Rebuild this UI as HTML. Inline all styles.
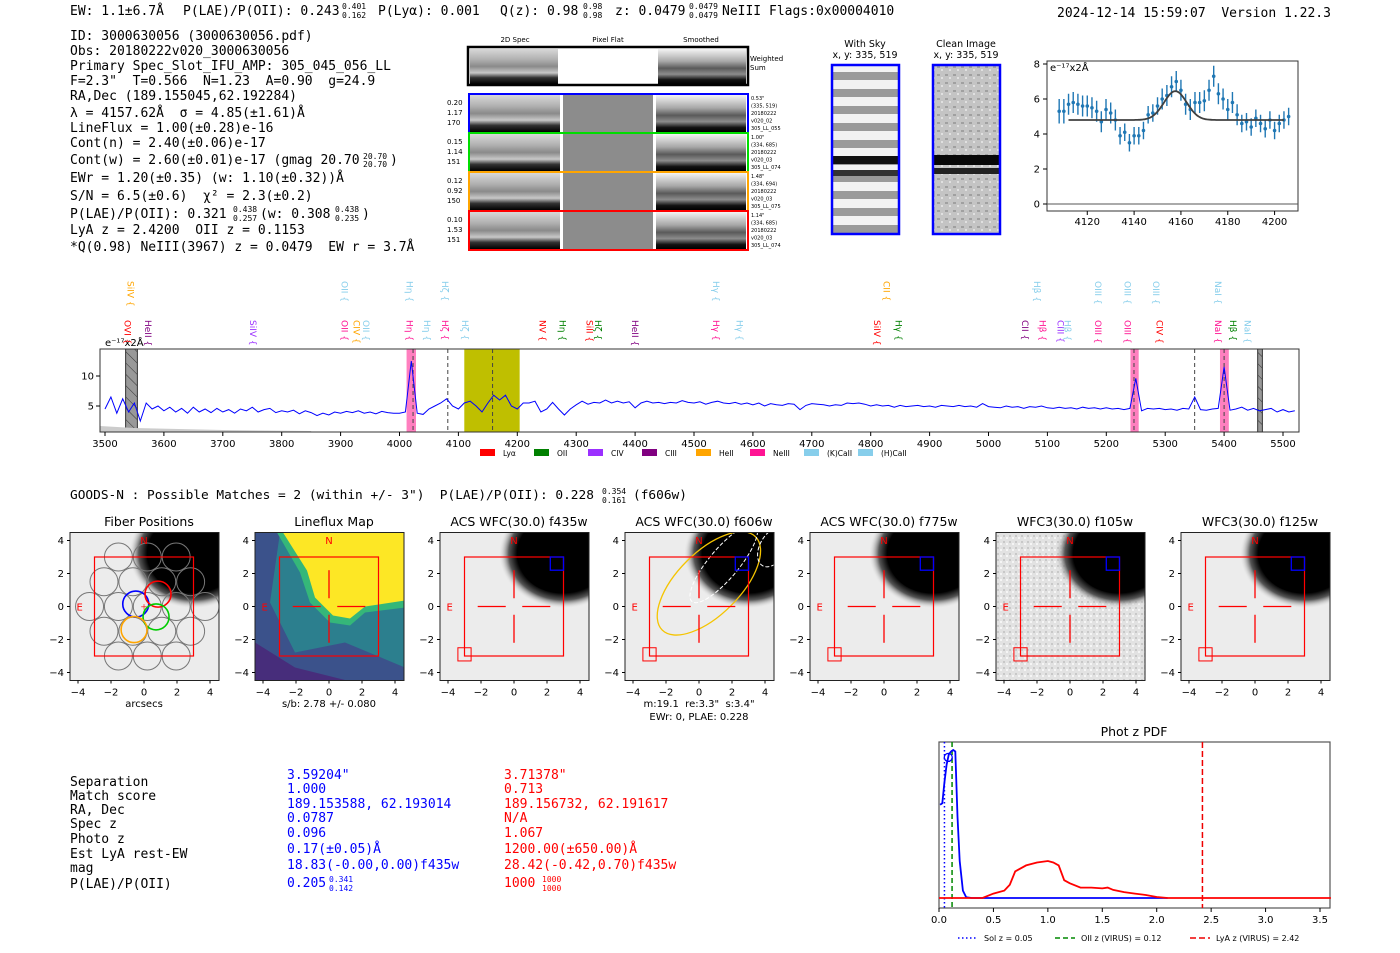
<!DOCTYPE html>
<html><head><meta charset="utf-8">
<style>
html,body{margin:0;padding:0;background:#fff;}
svg{display:block;}
text{white-space:pre;}
.mono{font-family:"DejaVu Sans Mono","Liberation Mono",monospace;font-size:13px;fill:#000;}
.sans{font-family:"DejaVu Sans","Liberation Sans",sans-serif;}
.tick{font-family:"DejaVu Sans","Liberation Sans",sans-serif;font-size:10px;fill:#000;}
</style></head>
<body>
<svg id="root" width="1400" height="953" viewBox="0 0 1400 953" xmlns="http://www.w3.org/2000/svg" xml:space="preserve">
<defs>
 <linearGradient id="g2d" x1="0" y1="0" x2="0" y2="1">
  <stop offset="0" stop-color="#d8d8d8"/><stop offset="0.3" stop-color="#b0b0b0"/><stop offset="0.5" stop-color="#8a8a8a"/><stop offset="0.68" stop-color="#c8c8c8"/><stop offset="0.82" stop-color="#333"/><stop offset="1" stop-color="#000"/>
 </linearGradient>
 <linearGradient id="gsm" x1="0" y1="0" x2="0" y2="1">
  <stop offset="0" stop-color="#f4f4f4"/><stop offset="0.35" stop-color="#a8a8a8"/><stop offset="0.55" stop-color="#5a5a5a"/><stop offset="0.72" stop-color="#8c8c8c"/><stop offset="0.88" stop-color="#111"/><stop offset="1" stop-color="#000"/>
 </linearGradient>
 <pattern id="stripes" width="10" height="17" patternUnits="userSpaceOnUse">
  <rect width="10" height="17" fill="#f2f2f2"/><rect y="4" width="10" height="8" fill="#9a9a9a"/>
 </pattern>
 <pattern id="cleanpat" width="8" height="8" patternUnits="userSpaceOnUse">
  <rect width="8" height="8" fill="#c4c4c4"/><rect x="1" y="2" width="3" height="2" fill="#a0a0a0"/><rect x="5" y="5" width="2" height="2" fill="#e0e0e0"/>
 </pattern>
 <pattern id="hatch" width="8" height="8" patternUnits="userSpaceOnUse" patternTransform="rotate(-45)">
  <rect width="8" height="8" fill="#999"/><line x1="0" y1="0" x2="0" y2="8" stroke="#333" stroke-width="1"/>
 </pattern>
 <radialGradient id="blob" cx="0.5" cy="0.5" r="0.5">
  <stop offset="0" stop-color="#000"/><stop offset="0.72" stop-color="#000"/><stop offset="0.85" stop-color="#555"/><stop offset="1" stop-color="#ddd" stop-opacity="0"/>
 </radialGradient>
 <pattern id="noise" width="6" height="6" patternUnits="userSpaceOnUse">
  <rect width="6" height="6" fill="#e2e2e2"/><rect x="1" y="1" width="2" height="2" fill="#c8c8c8"/><rect x="4" y="3" width="2" height="2" fill="#f5f5f5"/>
 </pattern>
</defs>

<g class="mono">
 <text x="70" y="15">EW: 1.1±6.7Å</text>
 <text x="183" y="15">P(LAE)/P(OII): 0.243</text>
 <text x="342" y="9" font-size="8">0.401</text><text x="342" y="18" font-size="8">0.162</text>
 <text x="378" y="15">P(Lyα): 0.001</text>
 <text x="500" y="15">Q(z): 0.98</text>
 <text x="583" y="9" font-size="8">0.98</text><text x="583" y="18" font-size="8">0.98</text>
 <text x="615" y="15">z: 0.0479</text>
 <text x="689" y="9" font-size="8">0.0479</text><text x="689" y="18" font-size="8">0.0479</text>
 <text x="722" y="15">NeIII</text>
 <text x="769" y="15">Flags:0x00004010</text>
 <text x="1057" y="17">2024-12-14 15:59:07  Version 1.22.3</text>
</g>

<g class="mono">
 <text x="70" y="40">ID: 3000630056 (3000630056.pdf)</text>
 <text x="70" y="55">Obs: 20180222v020_3000630056</text>
 <text x="70" y="70">Primary Spec_Slot_IFU_AMP: 305_045_056_LL</text>
 <text x="70" y="85">F=2.3"  T=0.566  N=1.23  A=0.90  g=24.9</text>
 <text x="70" y="100">RA,Dec (189.155045,62.192284)</text>
 <text x="70" y="117">λ = 4157.62Å  σ = 4.85(±1.61)Å</text>
 <text x="70" y="132">LineFlux = 1.00(±0.28)e-16</text>
 <text x="70" y="147">Cont(n) = 2.40(±0.06)e-17</text>
 <text x="70" y="164">Cont(w) = 2.60(±0.01)e-17 (gmag 20.70</text>
 <text x="363" y="159" font-size="8">20.70</text><text x="363" y="167" font-size="8">20.70</text><text x="390" y="164">)</text>
 <text x="70" y="182">EWr = 1.20(±0.35) (w: 1.10(±0.32))Å</text>
 <text x="70" y="200">S/N = 6.5(±0.6)  χ² = 2.3(±0.2)</text>
 <text x="70" y="218">P(LAE)/P(OII): 0.321</text>
 <text x="233" y="212" font-size="8">0.438</text><text x="233" y="221" font-size="8">0.257</text>
 <text x="260" y="218">(w: 0.308</text>
 <text x="335" y="212" font-size="8">0.438</text><text x="335" y="221" font-size="8">0.235</text><text x="362" y="218">)</text>
 <text x="70" y="234">LyA z = 2.4200  OII z = 0.1153</text>
 <text x="70" y="251">*Q(0.98) NeIII(3967) z = 0.0479  EW r = 3.7Å</text>
</g>

<g class="sans">
 <text x="515" y="42" font-size="7" text-anchor="middle">2D Spec</text>
 <text x="608" y="42" font-size="7" text-anchor="middle">Pixel Flat</text>
 <text x="701" y="42" font-size="7" text-anchor="middle">Smoothed</text>
 <g>
  <rect x="470" y="49" width="88" height="35" fill="url(#g2d)"/>
  <rect x="558" y="49" width="98" height="35" fill="#fff"/>
  <rect x="658" y="49" width="88" height="35" fill="url(#gsm)"/>
  <rect x="468" y="47" width="280" height="38" fill="none" stroke="#000" stroke-width="2.5"/>
  <text x="750" y="61" font-size="7">Weighted</text><text x="750" y="70" font-size="7">Sum</text>
 </g>
</g>
<g id="rows2d"></g>

<g class="sans">
 <text x="865" y="47" font-size="9.5" text-anchor="middle">With Sky</text>
 <text x="865" y="58" font-size="9.5" text-anchor="middle">x, y: 335, 519</text>
 <rect x="832" y="65" width="67" height="169" fill="url(#stripes)"/>
 <rect x="832" y="156" width="67" height="8" fill="#111"/>
 <rect x="832" y="170" width="67" height="6" fill="#333"/>
 <rect x="832" y="65" width="67" height="169" fill="none" stroke="#00f" stroke-width="2.5"/>
</g>
<g class="sans">
 <text x="966" y="47" font-size="9.5" text-anchor="middle">Clean Image</text>
 <text x="966" y="58" font-size="9.5" text-anchor="middle">x, y: 335, 519</text>
 <rect x="933" y="65" width="67" height="169" fill="url(#cleanpat)"/>
 <rect x="933" y="155" width="67" height="10" fill="#080808"/>
 <rect x="933" y="168" width="67" height="6" fill="#222"/>
 <rect x="933" y="65" width="67" height="169" fill="none" stroke="#00f" stroke-width="2.5"/>
</g>

<g id="zoomplot"></g>
<g id="specplot"></g>

<text x="70" y="499" class="mono" style="font-size:12.8px">GOODS-N : Possible Matches = 2 (within +/- 3")  P(LAE)/P(OII): 0.228</text>
<text x="602" y="494" class="mono" style="font-size:8px">0.354</text>
<text x="602" y="503" class="mono" style="font-size:8px">0.161</text>
<text x="633" y="499" class="mono" style="font-size:12.8px">(f606w)</text>

<g id="thumbs"></g>

<g class="mono">
 <g>
 <text x="70" y="786">Separation</text><text x="70" y="800">Match score</text><text x="70" y="814">RA, Dec</text>
 <text x="70" y="828">Spec z</text><text x="70" y="843">Photo z</text><text x="70" y="858">Est LyA rest-EW</text>
 <text x="70" y="872">mag</text><text x="70" y="888">P(LAE)/P(OII)</text>
 </g>
 <g>
 <text x="287" y="779" fill="#00f">3.59204"</text><text x="287" y="793" fill="#00f">1.000</text>
 <text x="287" y="808" fill="#00f">189.153588, 62.193014</text><text x="287" y="822" fill="#00f">0.0787</text>
 <text x="287" y="837" fill="#00f">0.096</text><text x="287" y="853" fill="#00f">0.17(±0.05)Å</text>
 <text x="287" y="869" fill="#00f">18.83(-0.00,0.00)f435w</text><text x="287" y="887" fill="#00f">0.205</text>
 <text x="329" y="882" font-size="8" fill="#00f">0.341</text><text x="329" y="891" font-size="8" fill="#00f">0.142</text>
 </g>
 <g>
 <text x="504" y="779" fill="#f00">3.71378"</text><text x="504" y="793" fill="#f00">0.713</text>
 <text x="504" y="808" fill="#f00">189.156732, 62.191617</text><text x="504" y="822" fill="#f00">N/A</text>
 <text x="504" y="837" fill="#f00">1.067</text><text x="504" y="853" fill="#f00">1200.00(±650.00)Å</text>
 <text x="504" y="869" fill="#f00">28.42(-0.42,0.70)f435w</text><text x="504" y="887" fill="#f00">1000</text>
 <text x="542" y="882" font-size="8" fill="#f00">1000</text><text x="542" y="891" font-size="8" fill="#f00">1000</text>
 </g>
</g>

<g id="pdfplot"></g>
</svg>

<script>
const fitWave = [4108,4110,4112,4114,4116,4118,4120,4122,4124,4126,4128,4130,4132,4134,4136,4138,4140,4142,4144,4146,4148,4150,4152,4154,4156,4158,4160,4162,4164,4166,4168,4170,4172,4174,4176,4178,4180,4182,4184,4186,4188,4190,4192,4194,4196,4198,4200,4202,4204,4206];
const fitFlux = [5.3,5.3,5.7,5.8,5.7,5.6,5.6,5.5,5.3,4.7,5.4,5.2,4.8,3.9,4.1,3.5,3.9,3.9,4.2,5.1,5.2,5.6,6.0,6.2,6.7,7.0,6.5,5.7,5.4,5.8,5.8,5.9,6.5,7.3,6.3,6.0,5.4,5.8,5.1,4.6,4.7,4.4,4.9,4.6,4.3,4.8,4.2,4.6,4.8,5.0];
const fitErr = [0.7,0.7,0.6,0.6,0.6,0.6,0.6,0.6,0.6,0.6,0.6,0.6,0.6,0.5,0.5,0.5,0.5,0.5,0.5,0.5,0.5,0.5,0.6,0.6,0.6,0.6,0.6,0.6,0.6,0.6,0.6,0.6,0.6,0.6,0.6,0.6,0.6,0.6,0.6,0.5,0.5,0.5,0.5,0.5,0.5,0.5,0.5,0.5,0.5,0.5];
const fitParams = [4.8, 1.65, 4157.62, 4.85];
const fitXTicks = [4120,4140,4160,4180,4200];
const fitYTicks = [0,2,4,6,8];

const specWave0 = 3500, specStep = 10;
const specFlux = [4.5,6.5,3.8,6.2,4.0,5.5,2.5,5.5,4.5,5.0,4.2,4.8,4.0,4.6,3.8,4.8,4.0,4.5,3.9,4.6,4.0,4.4,3.8,4.5,4.2,4.8,4.0,4.4,4.6,3.9,4.2,4.0,4.3,3.7,4.2,3.9,3.4,3.8,3.5,4.0,3.8,4.1,3.9,4.2,3.8,4.0,3.7,4.1,3.9,3.8,3.8,4.0,12.5,3.8,3.6,4.5,5.0,5.5,6.2,5.0,4.5,5.5,5.8,5.0,4.0,5.5,6.8,6.0,6.8,5.0,4.5,5.5,5.5,5.8,4.0,4.5,5.6,4.5,3.5,4.5,5.2,5.8,5.3,5.6,5.5,6.0,5.5,5.8,5.5,5.7,4.7,5.5,5.8,5.5,5.6,5.4,5.6,5.5,5.9,5.6,5.5,5.7,5.3,5.6,5.8,5.5,5.4,5.6,5.3,5.5,5.2,5.5,5.0,5.4,5.2,5.1,5.4,5.3,4.4,5.1,5.4,5.3,5.2,5.0,5.2,5.1,5.5,5.4,5.5,5.3,5.0,5.2,5.0,5.1,4.8,5.1,4.9,5.0,5.1,4.9,5.0,4.8,5.1,5.0,4.9,5.1,4.9,5.0,4.8,5.4,4.9,4.8,4.7,5.0,4.8,4.9,4.6,4.9,4.8,5.0,4.7,4.6,4.8,4.6,4.7,4.5,4.8,4.6,4.7,4.5,4.7,4.5,4.6,4.4,4.6,9.6,4.2,4.6,4.5,4.6,4.4,4.5,4.3,4.6,4.5,6.5,4.4,4.3,4.5,4.6,11.5,4.3,4.5,4.8,4.3,4.6,4.2,4.4,4.6,4.0,4.4,4.0,4.2];
const specXTicks = [3500,3600,3700,3800,3900,4000,4100,4200,4300,4400,4500,4600,4700,4800,4900,5000,5100,5200,5300,5400,5500];
const specYTicks = [5,10];
const specDashed = [4023,4082,4158,5247,5350,5400];
const pinkBands = [[4012,4028],[5241,5255],[5393,5408]];
const greyBands = [[3535,3555],[5457,5465]];
const oliveBand = [4110,4204];
const lineNames1 = ["SiIV","OII","Hη","Hζ","Hγ","CII","Hβ","OIII","OIII","OIII","NaI"];
const lineWave1 = [3543,3907,4017,4077,4537,4827,5082,5186,5236,5284,5390];
const lineColor1 = ["#ffa500","#87ceeb","#87ceeb","#87ceeb","#87ceeb","#ffa500","#87ceeb","#87ceeb","#87ceeb","#87ceeb","#87ceeb"];
const lineNames2 = ["OVI","HeII","SiIV","OII","CIV","OII","Hη","Hη","Hζ","Hζ","NV","Hη","SiII","Hζ","HeII","Hγ","Hγ","SiIV","Hγ","CII","Hβ","CIII","Hβ","OIII","OIII","CIV","NaI","Hβ","NaI"];
const lineWave2 = [3538,3573,3751,3907,3927,3943,4017,4047,4077,4111,4243,4277,4323,4337,4400,4537,4577,4811,4847,5062,5092,5122,5134,5186,5236,5290,5390,5415,5440];
const lineColor2 = ["#f00","#800080","#9b30ff","#ff1493","#ffa500","#87ceeb","#ff1493","#87ceeb","#ff1493","#87ceeb","#f00","#008000","#f00","#008000","#800080","#ff1493","#87ceeb","#f00","#008000","#800080","#ff1493","#9b30ff","#87ceeb","#ff1493","#ff1493","#f00","#ff1493","#008000","#87ceeb"];
const legendNames = ["Lyα","OII","CIV","CIII","HeII","NeIII","(K)CaII","(H)CaII"];
const legendColors = ["#f00","#008000","#9b30ff","#800080","#ffa500","#ff1493","#87ceeb","#87ceeb"];

const pdfBlueZ = [0.01,0.03,0.05,0.07,0.09,0.11,0.13,0.15,0.17,0.19,0.22,0.25,0.3,2.1];
const pdfBlueP = [0.63,0.64,0.78,0.9,0.97,0.99,1.0,0.99,0.55,0.25,0.05,0.005,0,0];
const pdfRedZ = [0,0.4,0.5,0.6,0.65,0.7,0.8,0.9,1.0,1.05,1.1,1.15,1.2,1.3,1.4,1.5,1.55,1.6,1.7,1.8,1.9,2.0,2.1,3.6];
const pdfRedP = [0,0,0.03,0.05,0.09,0.18,0.22,0.24,0.25,0.24,0.22,0.12,0.1,0.07,0.07,0.065,0.07,0.055,0.04,0.03,0.02,0.007,0,0];
const pdfRefZ = [0.05,0.12,2.42];
const pdfRefNames = ["Sol z = 0.05","OII z (VIRUS) = 0.12","LyA z (VIRUS) = 2.42"];
const pdfXTicks = [0.0,0.5,1.0,1.5,2.0,2.5,3.0,3.5];

const thumbTitles = ["Fiber Positions","Lineflux Map","ACS WFC(30.0) f435w","ACS WFC(30.0) f606w","ACS WFC(30.0) f775w","WFC3(30.0) f105w","WFC3(30.0) f125w"];
const thumbTicks = [-4,-2,0,2,4];
const fiberColX = [-0.5,0.85,0.73,-0.6];
const fiberColY = [0.15,0.75,-0.63,-1.4];
const fiberColors = ["#00f","#f00","#0c0","#ffa500"];

const NS = "http://www.w3.org/2000/svg";
function el(tag, parent, attrs){ const e=document.createElementNS(NS,tag); for(const k in attrs) e.setAttribute(k,attrs[k]); parent.appendChild(e); return e; }
function txt(parent, x, y, s, attrs){ const t=el("text",parent,Object.assign({x:x,y:y},attrs||{})); t.textContent=s; return t; }

(function(){
 const g=document.getElementById("rows2d");
 const rowColors=["#00f","#0d0","#ffa500","#f00"];
 const rowY=[95,134,173,212];
 const leftLab=[["0.20","1.17","170"],["0.15","1.14","151"],["0.12","0.92","150"],["0.10","1.53","151"]];
 const rightLab=[["0.53\"","(335, 519)","20180222","v020_02","305_LL_055"],["1.00\"","(334, 685)","20180222","v020_03","305_LL_074"],["1.48\"","(334, 694)","20180222","v020_03","305_LL_075"],["1.14\"","(334, 685)","20180222","v020_03","305_LL_074"]];
 for(let i=0;i<4;i++){
  const r=el("g",g,{});
  
  
  const y=rowY[i];
  el("rect",r,{x:470,y:y,width:90,height:37,fill:"url(#g2d)"});
  el("rect",r,{x:563,y:y,width:90,height:37,fill:"#8c8c8c"});
  el("rect",r,{x:656,y:y,width:90,height:37,fill:"url(#gsm)"});
  el("rect",r,{x:561,y:y,width:2,height:37,fill:"#fff"});
  el("rect",r,{x:654,y:y,width:2,height:37,fill:"#fff"});
  el("rect",r,{x:469,y:y-1,width:279,height:39,fill:"none",stroke:rowColors[i],"stroke-width":2});
  for(let k=0;k<3;k++) txt(r,447,y+10+k*10,leftLab[i][k],{"font-size":7,"font-family":"DejaVu Sans, sans-serif"});
  for(let k=0;k<5;k++) txt(r,751,y+5+k*7.5,rightLab[i][k],{"font-size":5,"font-family":"DejaVu Sans, sans-serif"});
 }
})();

(function(){
 const g=document.getElementById("zoomplot");
 const L=1047,R=1298,T=61,B=211;
 const X=w=>L+(w-4102.8)*(R-L)/(4210-4102.8);
 const Y=v=>204-v*17.5;
 el("rect",g,{x:L,y:T,width:R-L,height:B-T,fill:"#fff",stroke:"#333","stroke-width":1});
 el("line",g,{x1:L,x2:R,y1:Y(0),y2:Y(0),stroke:"#555","stroke-width":1});
 fitXTicks.forEach(t=>{ el("line",g,{x1:X(t),x2:X(t),y1:B,y2:B+4,stroke:"#000"}); const tt=txt(g,X(t),B+14,String(t),{"text-anchor":"middle",class:"tick"});   });
 fitYTicks.forEach(t=>{ el("line",g,{x1:L-4,x2:L,y1:Y(t),y2:Y(t),stroke:"#000"}); txt(g,L-7,Y(t)+3.5,String(t),{"text-anchor":"end",class:"tick"}); });
 txt(g,L+3,T+10,"e⁻¹⁷x2Å",{class:"tick","font-size":9});
 for(let i=0;i<fitWave.length;i++){
  const x=X(fitWave[i]);
  const eb=el("line",g,{x1:x,x2:x,y1:Y(fitFlux[i]-fitErr[i]),y2:Y(fitFlux[i]+fitErr[i]),stroke:"#1f77b4","stroke-width":1.4});
  
  
  const p=el("circle",g,{cx:x,cy:Y(fitFlux[i]),r:1.8,fill:"#1f77b4"});
  
  
 }
 let d="";
 for(let w=4112;w<=4204;w+=0.5){ const v=fitParams[0]+fitParams[1]*Math.exp(-Math.pow(w-fitParams[2],2)/(2*fitParams[3]*fitParams[3])); d+=(d?"L":"M")+X(w).toFixed(1)+","+Y(v).toFixed(1); }
 const m=el("path",g,{d:d,fill:"none",stroke:"#404040","stroke-width":1.8});
 
 
})();

(function(){
 const g=document.getElementById("specplot");
 const L=100,R=1299,T=349,B=432;
 const X=w=>105+(w-3500)*(1283-105)/2000;
 const Y=v=>436-6*v;
 el("rect",g,{x:L,y:T,width:R-L,height:B-T,fill:"#fff"});
 pinkBands.forEach(b=>{ const r=el("rect",g,{x:X(b[0]),y:T,width:X(b[1])-X(b[0]),height:B-T,fill:"#ff69b4",opacity:0.85});   });
 greyBands.forEach(b=>{ const r=el("rect",g,{x:X(b[0]),y:T,width:X(b[1])-X(b[0]),height:B-T,fill:"url(#hatch)",stroke:"#333"});   });
 const ob=el("rect",g,{x:X(oliveBand[0]),y:T,width:X(oliveBand[1])-X(oliveBand[0]),height:B-T,fill:"#bfbf00"});
 
 
 el("path",g,{d:"M"+L+","+(B-6)+" L"+X(3550)+","+(B-4)+" L"+X(3700)+","+(B-2)+" L"+X(3850)+","+(B-1)+" L"+X(3850)+","+B+" L"+L+","+B+"Z",fill:"#ccc"});
 specDashed.forEach(w=>{ const l=el("line",g,{x1:X(w),x2:X(w),y1:T,y2:B,stroke:"#444","stroke-dasharray":"4,3","stroke-width":1});   });
 let d="";
 specFlux.forEach((v,i)=>{ const w=specWave0+i*specStep; const x=Math.min(Math.max(X(w),L),R); d+=(i?"L":"M")+x.toFixed(1)+","+Math.max(Y(v),T).toFixed(1); });
 const sp=el("path",g,{d:d,fill:"none",stroke:"#00f","stroke-width":1});
 
 
 el("rect",g,{x:L,y:T,width:R-L,height:B-T,fill:"none",stroke:"#333","stroke-width":1});
 specXTicks.forEach(t=>{ el("line",g,{x1:X(t),x2:X(t),y1:B,y2:B+4,stroke:"#000"}); txt(g,X(t),B+15,String(t),{"text-anchor":"middle",class:"tick"}); });
 specYTicks.forEach(t=>{ el("line",g,{x1:L-4,x2:L,y1:Y(t),y2:Y(t),stroke:"#000"}); txt(g,L-6,Y(t)+3.5,String(t),{"text-anchor":"end",class:"tick"}); });
 txt(g,105,346,"e⁻¹⁷x2Å",{class:"tick","font-size":9.5});
 function labels(names,waves,cols,ytop){
  names.forEach((n,i)=>{ const x=X(waves[i]);
   const t=txt(g,0,0,n+" {",{transform:"translate("+(x-3)+","+ytop+") rotate(90)",fill:cols[i],"font-size":9,"font-family":"DejaVu Sans, sans-serif"});
   
   
  });
 }
 labels(lineNames1,lineWave1,lineColor1,281);
 labels(lineNames2,lineWave2,lineColor2,320);
 legendNames.forEach((n,i)=>{ const x=480+i*54;
  const lg=el("g",g,{});
  
  
  el("rect",lg,{x:x,y:449,width:15,height:7,fill:legendColors[i]});
  txt(lg,x+23,456,n,{"font-size":7.5,"font-family":"DejaVu Sans, sans-serif"});
 });
})();

(function(){
 const g=document.getElementById("thumbs");
 const centers=[144,329,514,699,884,1070,1255];
 const cy=606.5, s=16.5;
 thumbTitles.forEach((title,p)=>{
  const cx=centers[p];
  const pg=el("g",g,{});
  
  
  const l=cx-74,t=cy-74,w=149,h=148;
  const cp=el("clipPath",pg,{id:"cp"+p}); el("rect",cp,{x:l,y:t,width:w,height:h});
  const ig=el("g",pg,{"clip-path":"url(#cp"+p+")"});
  if(p===1){
   el("rect",ig,{x:l,y:t,width:w,height:h,fill:"#2c7f8e"});
   el("path",ig,{d:`M${l},${t} L${l+25},${t} L${l+15},${t+70} L${l+40},${t+120} L${l+90},${t+110} L${l+150},${t+135} L${l+150},${t+150} L${l},${t+150}Z`,fill:"#3b528b"});
   el("path",ig,{d:`M${l},${t+110} L${l+40},${t+135} L${l+100},${t+150} L${l},${t+150}Z`,fill:"#472d7b"});
   el("path",ig,{d:`M${l+22},${t} L${l+150},${t} L${l+150},${t+75} L${l+110},${t+80} L${l+95},${t+93} L${l+75},${t+90} L${l+55},${t+70} L${l+45},${t+40} Z`,fill:"#35b779"});
   el("path",ig,{d:`M${l+28},${t} L${l+150},${t} L${l+150},${t+68} L${l+110},${t+74} L${l+95},${t+86} L${l+78},${t+83} L${l+60},${t+65} L${l+52},${t+38} Z`,fill:"#fde725"});
  } else {
   el("rect",ig,{x:l,y:t,width:w,height:h,fill:(p===5?"url(#noise)":"#ececec")});
   el("ellipse",ig,{cx:cx+3.0*s,cy:cy-3.2*s,rx:3.9*s,ry:3.3*s,fill:"url(#blob)"});
   el("ellipse",ig,{cx:cx+2.9*s,cy:cy-2.9*s,rx:2.6*s,ry:2.1*s,fill:"#000"});
   el("ellipse",ig,{cx:cx+4.3*s,cy:cy-4.2*s,rx:1.5*s,ry:1.5*s,fill:"#000"});
  }
  if(p===3){
   el("ellipse",ig,{cx:cx+0.6*s,cy:cy-1.4*s,rx:4.0*s,ry:1.9*s,transform:`rotate(-45 ${cx+0.6*s} ${cy-1.4*s})`,fill:"none",stroke:"#f5c400","stroke-width":1.3});
   el("ellipse",ig,{cx:cx+1.5*s,cy:cy-2.6*s,rx:3.0*s,ry:0.9*s,transform:`rotate(-50 ${cx+1.5*s} ${cy-2.6*s})`,fill:"none",stroke:"#fff","stroke-dasharray":"4,2"});
   el("ellipse",ig,{cx:cx+4.5*s,cy:cy-3.6*s,rx:1.3*s,ry:0.8*s,transform:`rotate(-60 ${cx+4.5*s} ${cy-3.6*s})`,fill:"none",stroke:"#fff","stroke-dasharray":"4,2"});
  }
  if(p===0){
   const fx=[],fy=[];
   for(let r=-3;r<=3;r++) for(let c=-3;c<=3;c++){ const x=c*1.75+(Math.abs(r)%2?0.875:0), y=r*1.5; if(x*x+y*y<13.5) {fx.push(x);fy.push(y);} }
   fx.forEach((x,i)=>{ const c=el("circle",ig,{cx:cx+x*s+0.2*s,cy:cy-fy[i]*s,r:14,fill:"none",stroke:"#777","stroke-width":1});   });
   fiberColX.forEach((x,i)=>{ const c=el("circle",ig,{cx:cx+x*s,cy:cy-fiberColY[i]*s,r:13,fill:"none",stroke:fiberColors[i],"stroke-width":1.6});   });
   txt(ig,cx,cy+4,"+",{fill:"#f00","font-size":12,"text-anchor":"middle"});
  }
  el("rect",pg,{x:cx-3*s,y:cy-3*s,width:6*s,height:6*s,fill:"none",stroke:"#f00","stroke-width":1.2});
  if(p>0){
   [[-2.2,-0.5,0,0],[0.5,2.2,0,0],[0,0,0.5,2.2],[0,0,-0.5,-2.2]].forEach(a=>el("line",pg,{x1:cx+a[0]*s,x2:cx+a[1]*s,y1:cy-a[2]*s,y2:cy-a[3]*s,stroke:"#f00","stroke-width":1.3}));
  }
  if(p>=2){
   el("rect",pg,{x:cx+2.2*s,y:cy-3*s,width:0.8*s,height:0.8*s,fill:"none",stroke:"#00f","stroke-width":1.3});
   el("rect",pg,{x:cx-3.4*s,y:cy+2.5*s,width:0.8*s,height:0.8*s,fill:"none",stroke:"#f00","stroke-width":1});
  }
  txt(pg,cx,cy-3.8*s,"N",{fill:"#f00","font-size":10,"text-anchor":"middle","font-family":"DejaVu Sans, sans-serif"});
  txt(pg,cx-3.9*s,cy+4,"E",{fill:"#f00","font-size":10,"text-anchor":"middle","font-family":"DejaVu Sans, sans-serif"});
  el("rect",pg,{x:l,y:t,width:w,height:h,fill:"none",stroke:"#222","stroke-width":1});
  const tt=txt(pg,cx+5,526,title,{"text-anchor":"middle","font-size":12.5,"font-family":"DejaVu Sans, sans-serif"});
  
  
  thumbTicks.forEach(v=>{
   el("line",pg,{x1:cx+v*s,x2:cx+v*s,y1:t+h,y2:t+h+3,stroke:"#000"});
   txt(pg,cx+v*s,t+h+15,v<0?"−"+(-v):String(v),{"text-anchor":"middle",class:"tick"});
   el("line",pg,{x1:l-3,x2:l,y1:cy-v*s,y2:cy-v*s,stroke:"#000"});
   txt(pg,l-6,cy-v*s+3.5,v<0?"−"+(-v):String(v),{"text-anchor":"end",class:"tick"});
  });
 });
 txt(g,144,707,"arcsecs",{"text-anchor":"middle",class:"tick"});
 txt(g,329,707,"s/b: 2.78 +/- 0.080",{"text-anchor":"middle",class:"tick"});
 txt(g,699,707,"m:19.1  re:3.3\"  s:3.4\"",{"text-anchor":"middle",class:"tick"});
 txt(g,699,720,"EWr: 0, PLAE: 0.228",{"text-anchor":"middle",class:"tick"});
})();

(function(){
 const g=document.getElementById("pdfplot");
 const L=939,R=1330,T=742,B=908;
 const X=z=>L+z*(1320-L)/3.5;
 const Y=v=>898-v*148;
 el("rect",g,{x:L,y:T,width:R-L,height:B-T,fill:"#fff",stroke:"#555","stroke-width":1.2});
 txt(g,1134,736,"Phot z PDF",{"text-anchor":"middle","font-size":12.5,"font-family":"DejaVu Sans, sans-serif"});
 const cols=["#00f","#080","#e00"], dash=["1.5,2.5","5,3","6,3"];
 pdfRefZ.forEach((z,i)=>{ const l=el("line",g,{x1:X(z),x2:X(z),y1:T,y2:B,stroke:cols[i],"stroke-dasharray":dash[i],"stroke-width":1.5});   });
 function path(zs,ps,c,name){ let d=""; zs.forEach((z,i)=>{ d+=(i?"L":"M")+X(z).toFixed(1)+","+Y(ps[i]).toFixed(1); }); const p=el("path",g,{d:d,fill:"none",stroke:c,"stroke-width":1.8});   }
 path(pdfBlueZ,pdfBlueP,"#00f","pdf-match-1");
 path(pdfRedZ,pdfRedP,"#f00","pdf-match-2");
 el("circle",g,{cx:X(0.085),cy:Y(0.95),r:4,fill:"none",stroke:"#00f","stroke-width":1.3});
 pdfXTicks.forEach(t=>{ el("line",g,{x1:X(t),x2:X(t),y1:B,y2:B+4,stroke:"#000"}); txt(g,X(t),B+15,t.toFixed(1),{"text-anchor":"middle",class:"tick"}); });
 const lx=[958,1055,1190];
 pdfRefNames.forEach((n,i)=>{
  const lg=el("g",g,{});
  
  
  el("line",lg,{x1:lx[i],x2:lx[i]+20,y1:938,y2:938,stroke:cols[i],"stroke-dasharray":dash[i],"stroke-width":1.5});
  txt(lg,lx[i]+26,941,n,{"font-size":8,"font-family":"DejaVu Sans, sans-serif"});
 });
})();
</script>
</body></html>
